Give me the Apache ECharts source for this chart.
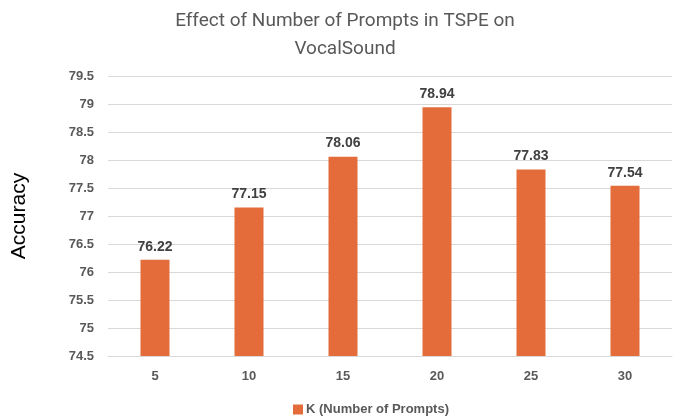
<!DOCTYPE html>
<html><head><meta charset="utf-8">
<script src="https://cdn.jsdelivr.net/npm/echarts@6/dist/echarts.min.js"></script>
<style>html,body{margin:0;padding:0;background:#fff}#c{width:683px;height:416px}</style>
</head><body><div id="c"></div>
<script>
const categories = ['5','10','15','20','25','30'];
const accuracy = [76.22, 77.15, 78.06, 78.94, 77.83, 77.54];
const seriesName = 'K (Number of Prompts)';
const chart = echarts.init(document.getElementById('c'));
const F = 'Liberation Sans, Arial, sans-serif';
chart.setOption({
  animation: false,
  title: {
    text: 'Effect of Number of Prompts in TSPE on\nVocalSound',
    left: 340, top: 2, textAlign: 'center',
    textStyle: {color: '#595959', fontSize: 19, fontWeight: 'normal', fontFamily: 'Liberation Sans Narrow, Roboto, sans-serif', lineHeight: 28}
  },
  legend: {
    data: [seriesName], left: 288, top: 398, itemWidth: 10, itemHeight: 10, itemGap: 4,
    icon: 'rect',
    textStyle: {color: '#595959', fontSize: 13, fontWeight: 'bold', fontFamily: F, padding: [0,0,0,-2]}
  },
  grid: {left: 108, right: 11, top: 76, bottom: 60},
  xAxis: {
    type: 'category', data: categories,
    axisLine: {lineStyle: {color: '#d9d9d9'}},
    axisTick: {show: false},
    axisLabel: {color: '#595959', fontSize: 13, fontWeight: 'bold', margin: 14, fontFamily: F}
  },
  yAxis: {
    type: 'value', min: 74.5, max: 79.5, interval: 0.5,
    name: 'Accuracy', nameLocation: 'middle', nameGap: 78, nameRotate: 90,
    nameTextStyle: {color: '#000', fontSize: 21, fontFamily: F},
    axisLine: {show: false}, axisTick: {show: false},
    splitLine: {lineStyle: {color: '#d9d9d9'}},
    axisLabel: {color: '#595959', fontSize: 13, fontWeight: 'bold', margin: 14, fontFamily: F}
  },
  series: [{
    name: seriesName, type: 'bar', data: accuracy, barWidth: 29,
    itemStyle: {color: '#E46C3A'},
    label: {show: true, position: 'top', distance: 6, color: '#404040', fontSize: 14, fontWeight: 'bold', fontFamily: F}
  }]
});
</script></body></html>
